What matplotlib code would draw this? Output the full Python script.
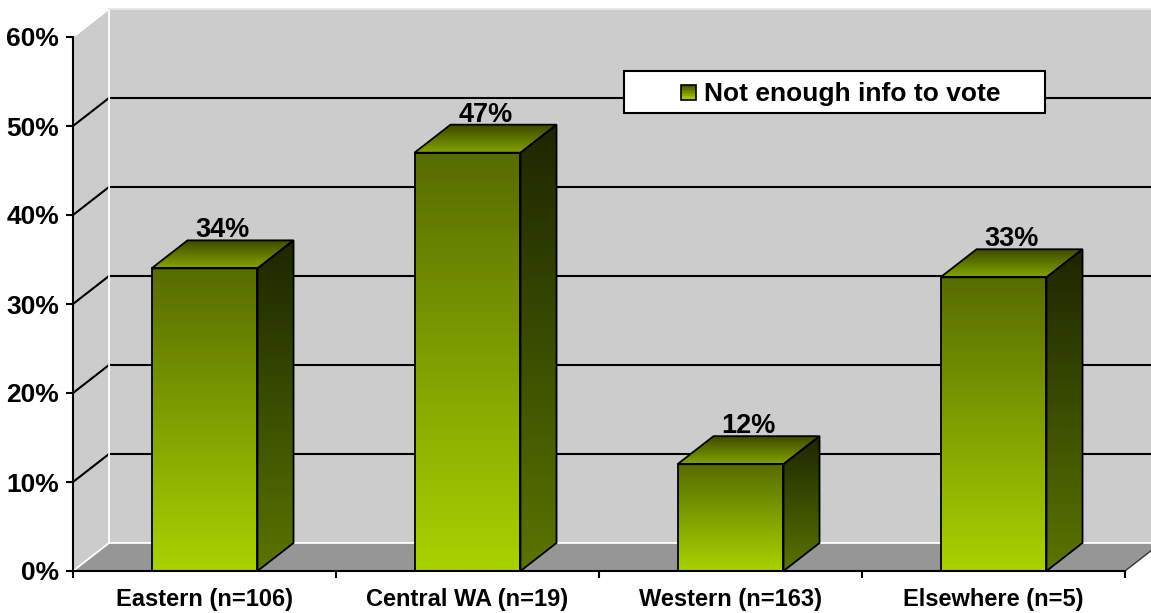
import numpy as np
import matplotlib
matplotlib.use("Agg")
import matplotlib.pyplot as plt
from matplotlib.patches import Polygon, Rectangle

plt.rcParams["font.family"] = ["Liberation Sans", "DejaVu Sans"]
plt.rcParams["font.weight"] = "bold"

# survey data
categories = ["Eastern (n=106)", "Central WA (n=19)", "Western (n=163)", "Elsewhere (n=5)"]
values = [34, 47, 12, 33]
series_name = "Not enough info to vote"
y_ticks = [0, 10, 20, 30, 40, 50, 60]

# pseudo-3d depth, in data units
DX = 0.137
DY = 3.15
BAR_W = 0.403
YMAX = 60

# face colours (rgb 0-255), top -> bottom
FRONT = ((86, 108, 0), (170, 210, 0))
SIDE = ((28, 38, 0), (90, 116, 0))
TOP = ((56, 70, 0), (130, 164, 0))
WALL = "#cccccc"
FLOOR = "#969696"

W, H = 1151, 613
fig = plt.figure(figsize=(W / 100, H / 100), dpi=100)
ax = fig.add_axes([73 / W, 42 / H, 1052 / W, 534 / H])
ax.patch.set_visible(False)


def shaded_face(verts, c_top, c_bot, z):
    poly = Polygon(verts, closed=True, facecolor="none", edgecolor="black",
                   lw=1.3, joinstyle="miter", zorder=z + 0.1)
    ax.add_patch(poly)
    xs = [p[0] for p in verts]
    ys = [p[1] for p in verts]
    t = np.linspace(0, 1, 128)[:, None, None]
    img = ((1 - t) * np.array(c_top) + t * np.array(c_bot)) / 255.0
    im = ax.imshow(img, extent=(min(xs), max(xs), min(ys), max(ys)),
                   origin="upper", aspect="auto", interpolation="bilinear", zorder=z)
    im.set_clip_path(poly)


n = len(categories)

# walls and floor
ax.add_patch(Polygon([(DX, DY), (n + DX, DY), (n + DX, YMAX + DY), (DX, YMAX + DY)],
                     facecolor=WALL, edgecolor="none", zorder=0.5, clip_on=False))
ax.add_patch(Polygon([(0, 0), (DX, DY), (DX, YMAX + DY), (0, YMAX)],
                     facecolor=WALL, edgecolor="none", zorder=0.5, clip_on=False))
ax.add_patch(Polygon([(0, 0), (n, 0), (n + DX, DY), (DX, DY)],
                     facecolor=FLOOR, edgecolor="none", zorder=0.6, clip_on=False))

# gridlines on back and side walls
for v in y_ticks[1:-1]:
    ax.plot([DX, n + DX], [v + DY, v + DY], color="black", lw=1.5, zorder=0.8, clip_on=False)
    ax.plot([0, DX], [v, v + DY], color="black", lw=1.5, zorder=0.8, clip_on=False)

# light edges of the box
ax.plot([0, DX, DX, n + DX], [YMAX, YMAX + DY, DY, DY], color="white", lw=1.3, zorder=0.9, clip_on=False)
ax.plot([0, DX], [0, DY], color="white", lw=1.3, zorder=0.9, clip_on=False)
ax.plot([DX, n + DX], [YMAX + DY, YMAX + DY], color="#e6e6e6", lw=1.3, zorder=0.9, clip_on=False)
ax.plot([n, n + DX], [0, DY], color="#333333", lw=1.0, zorder=0.9, clip_on=False)

# bars
for i, v in enumerate(values):
    x0 = i + 0.5 - BAR_W / 2
    x1 = x0 + BAR_W
    z = 2 + i * 0.01
    shaded_face([(x0, 0), (x1, 0), (x1, v), (x0, v)], FRONT[0], FRONT[1], z)
    shaded_face([(x1, 0), (x1 + DX, DY), (x1 + DX, v + DY), (x1, v)], SIDE[0], SIDE[1], z)
    shaded_face([(x0, v), (x1, v), (x1 + DX, v + DY), (x0 + DX, v + DY)], TOP[0], TOP[1], z)
    ax.text(i + 0.5 + DX / 2, v + DY + 0.35, f"{v}%", ha="center", va="baseline",
            fontsize=19.5, fontweight="bold", zorder=5)

ax.set_xlim(0, n)
ax.set_ylim(0, YMAX)

# axes, ticks, labels
for side in ("top", "right"):
    ax.spines[side].set_visible(False)
for side in ("left", "bottom"):
    ax.spines[side].set_linewidth(1.5)
    ax.spines[side].set_zorder(3)

ax.set_yticks(y_ticks)
ax.set_yticklabels([f"{v}%" for v in y_ticks])
ax.tick_params(axis="y", direction="out", length=5, width=1.5, pad=5, labelsize=19)

ax.set_xticks(range(n + 1))
ax.set_xticklabels([])
ax.set_xticks([i + 0.5 for i in range(n)], minor=True)
ax.set_xticklabels(categories, minor=True)
ax.tick_params(axis="x", which="major", direction="out", length=5, width=1.5)
ax.tick_params(axis="x", which="minor", length=0, pad=12.5, labelsize=17)

# legend box
lx0, ly0, lx1, ly1 = 624, 71, 1045, 113
fig.patches.append(Rectangle((lx0 / W, 1 - ly1 / H), (lx1 - lx0) / W, (ly1 - ly0) / H,
                             transform=fig.transFigure, facecolor="white", edgecolor="black",
                             lw=1.5, zorder=10))
sw_x, sw_y, sw = 681, 85, 15
steps = 10
for k in range(steps):
    f = k / (steps - 1)
    col = (np.array(FRONT[1]) * (1 - f) + np.array((70, 88, 0)) * f) / 255.0
    fig.patches.append(Rectangle((sw_x / W, 1 - (sw_y + sw) / H + k * sw / steps / H),
                                 sw / W, sw / steps / H, transform=fig.transFigure,
                                 facecolor=col, edgecolor="none", zorder=11))
fig.patches.append(Rectangle((sw_x / W, 1 - (sw_y + sw) / H), sw / W, sw / H,
                             transform=fig.transFigure, facecolor="none", edgecolor="black",
                             lw=1.2, zorder=12))
fig.text(704 / W, 1 - 92 / H, series_name, ha="left", va="center_baseline",
         fontsize=19, fontweight="bold", zorder=12)

fig.savefig("out.png", dpi=100)
